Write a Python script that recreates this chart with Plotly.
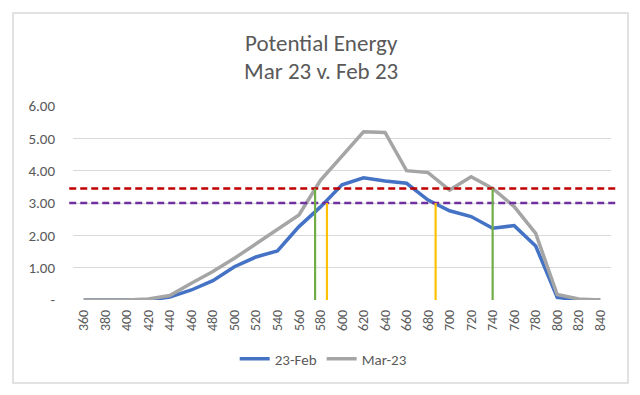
import plotly.graph_objects as go

wavelengths = [360, 380, 400, 420, 440, 460, 480, 500, 520, 540, 560, 580, 600,
               620, 640, 660, 680, 700, 720, 740, 760, 780, 800, 820, 840]
feb_23 = [0.0, 0.0, 0.0, 0.0, 0.09, 0.31, 0.6, 1.03, 1.33, 1.52, 2.27, 2.88, 3.56,
          3.78, 3.68, 3.61, 3.09, 2.76, 2.58, 2.22, 2.3, 1.67, 0.08, 0.0, 0.0]
mar_23 = [0.0, 0.0, 0.0, 0.03, 0.14, 0.52, 0.88, 1.29, 1.74, 2.16, 2.63, 3.7, 4.45,
          5.2, 5.18, 4.0, 3.94, 3.4, 3.81, 3.45, 2.89, 2.06, 0.17, 0.03, 0.0]
series_names = ["23-Feb", "Mar-23"]
title_lines = ["Potential Energy", "Mar 23 v. Feb 23"]

threshold_red = 3.45
threshold_purple = 3.0
green_marks = [575, 740]
yellow_marks = [586, 687]

y_tickvals = [0, 1, 2, 3, 4, 5, 6]
y_ticktext = ["-", "1.00", "2.00", "3.00", "4.00", "5.00", "6.00"]

fig = go.Figure()
fig.add_trace(go.Scatter(x=wavelengths, y=feb_23, mode="lines", name=series_names[0],
                         line=dict(color="#4472C4", width=3.5)))
fig.add_trace(go.Scatter(x=wavelengths, y=mar_23, mode="lines", name=series_names[1],
                         line=dict(color="#A5A5A5", width=3.5)))

shapes = []
for yv, col in [(threshold_red, "#C00000"), (threshold_purple, "#7030A0")]:
    shapes.append(dict(type="line", xref="paper", yref="y", x0=-0.007, x1=1.013,
                       y0=yv, y1=yv, line=dict(color=col, width=2.5, dash="7px,4px"),
                       layer="above"))
for xv in green_marks:
    shapes.append(dict(type="line", xref="x", yref="y", x0=xv, x1=xv, y0=0,
                       y1=threshold_red, line=dict(color="#70AD47", width=2.2)))
for xv in yellow_marks:
    shapes.append(dict(type="line", xref="x", yref="y", x0=xv, x1=xv, y0=0,
                       y1=threshold_purple, line=dict(color="#FFC000", width=2.2)))
shapes.append(dict(type="rect", xref="paper", yref="paper",
                   x0=(13 - 73) / 538, x1=(628 - 73) / 538,
                   y0=(300 - 383) / 194, y1=(300 - 13) / 194,
                   line=dict(color="#D9D9D9", width=1.5), layer="below"))

font_family = "Calibri, Carlito, Lato, sans-serif"
annotations = [
    dict(text=title_lines[0], xref="paper", yref="paper", x=(321 - 73) / 538,
         y=(300 - 43) / 194, xanchor="center", yanchor="middle", showarrow=False,
         font=dict(size=23, color="#595959", family=font_family)),
    dict(text=title_lines[1], xref="paper", yref="paper", x=(321 - 73) / 538,
         y=(300 - 71) / 194, xanchor="center", yanchor="middle", showarrow=False,
         font=dict(size=23, color="#595959", family=font_family)),
]

fig.update_layout(
    width=640, height=395,
    margin=dict(l=73, r=29, t=106, b=95),
    paper_bgcolor="white", plot_bgcolor="white",
    font=dict(family=font_family, color="#595959"),
    showlegend=True,
    legend=dict(orientation="h", xref="container", yref="container", x=0.505,
                xanchor="center", y=1 - 359 / 395, yanchor="middle",
                font=dict(size=15, color="#595959"), itemwidth=30),
    shapes=shapes,
    annotations=annotations,
    xaxis=dict(range=[350, 850], tickvals=wavelengths, ticktext=[str(w) for w in wavelengths],
               tickangle=-90, showgrid=False, zeroline=False, showline=False,
               ticks="", tickfont=dict(size=14, color="#595959"), ticklabelstandoff=6),
    yaxis=dict(range=[0, 6], tickvals=y_tickvals, ticktext=y_ticktext,
               showgrid=True, gridcolor="#D9D9D9", gridwidth=1, zeroline=False,
               showline=False, ticks="", tickfont=dict(size=15, color="#595959"),
               ticklabelstandoff=17),
)

fig.write_html("out.html", post_script="document.body.style.margin='0';",
               config={"displayModeBar": False})
